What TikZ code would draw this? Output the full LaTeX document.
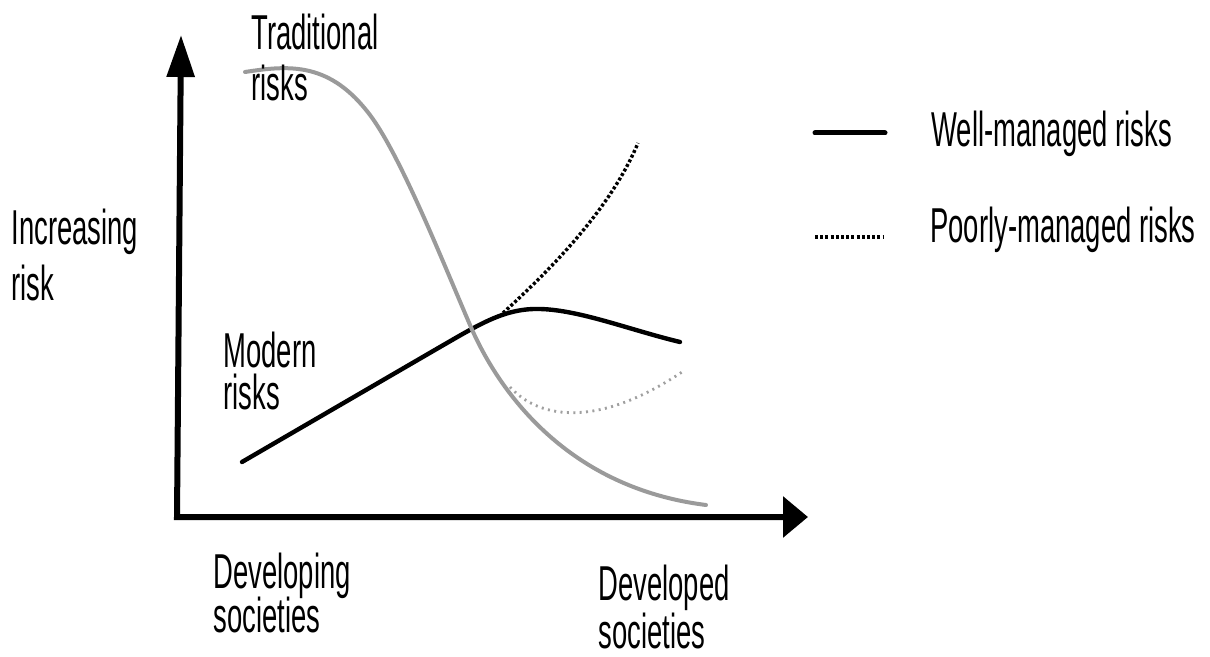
\documentclass[tikz,border=0pt]{standalone}
\usepackage{graphicx}
\usepackage{fontspec}
\setmainfont{Liberation Sans}
\usetikzlibrary{arrows.meta}
\newcommand{\narrowtext}[1]{\scalebox{0.56}[1]{#1}}
\newcommand{\twolines}[3]{\narrowtext{\vtop{\baselineskip=#3\lineskiplimit=-50pt\lineskip=0pt\hbox{#1}\hbox{#2}}}}
\definecolor{tradgrey}{HTML}{9A9A9A}
\definecolor{lowgrey}{HTML}{A0A0A0}
\begin{document}
\begin{tikzpicture}[x=0.5pt,y=-0.5pt,
  axis/.style={line width=3pt, line join=miter},
  wellline/.style={line width=2.2pt, line cap=round},
  tradline/.style={line width=2pt, draw=tradgrey, line cap=round},
  poorup/.style={line width=1.7pt, dash pattern=on 1.5pt off 1.1pt},
  poorlow/.style={line width=1.4pt, draw=lowgrey, dash pattern=on 1pt off 2.2pt},
  lab/.style={inner sep=0pt, anchor=base west, font=\fontsize{24.5}{29}\selectfont}]
\useasboundingbox (0,0) rectangle (1210,657);

% axes
\coordinate (ytip) at (181,35);
\coordinate (O) at (177,517);
\coordinate (xtip) at (808,517);
\draw[axis, {Triangle[length=21pt,width=13.5pt]}-{Triangle[length=12.5pt,width=20pt]}] (ytip) -- (O) -- (xtip);

% modern risks (well-managed)
\coordinate (m0) at (242,462);
\coordinate (m1) at (680,342);
\draw[wellline] (m0) -- (440,347) .. controls (480,324) and (505,308) .. (540,309)
  .. controls (580,310) and (630,330) .. (m1);
% poorly-managed modern risks
\coordinate (p0) at (503,313);
\coordinate (p1) at (638,143);
\draw[poorup] (p0) .. controls (550,270) and (610,210) .. (p1);
% poorly-managed traditional risks
\coordinate (q0) at (510,387);
\coordinate (q1) at (685,370);
\draw[poorlow] (q0) .. controls (540,420) and (600,428) .. (q1);
% traditional risks
\coordinate (t0) at (245,72);
\coordinate (t1) at (706,505);
\draw[tradline] (t0) .. controls (290,65) and (330,62) .. (370,115)
  .. controls (400,155) and (440,255) .. (470,325)
  .. controls (500,395) and (570,488) .. (t1);

% labels
\node[lab] (trad) at (251,50) {\twolines{Traditional}{risks}{25.5pt}};
\node[lab] (inc) at (11,245) {\twolines{Increasing}{risk}{28pt}};
\node[lab] (mod) at (223,368) {\twolines{Modern}{risks}{21pt}};
\node[lab] (dev) at (213,588) {\twolines{Developing}{societies}{22pt}};
\node[lab] (dvd) at (598,600) {\twolines{Developed}{societies}{24pt}};

% legend
\coordinate (l1a) at (815,133);
\coordinate (l1b) at (885,133);
\coordinate (l2a) at (815,237);
\coordinate (l2b) at (883,237);
\draw[wellline, line width=2.5pt] (l1a) -- (l1b);
\draw[poorup] (l2a) -- (l2b);
\node[lab] (leg1) at (931,147) {\narrowtext{Well-managed risks}};
\node[lab] (leg2) at (930,243) {\narrowtext{Poorly-managed risks}};
\end{tikzpicture}
\end{document}
